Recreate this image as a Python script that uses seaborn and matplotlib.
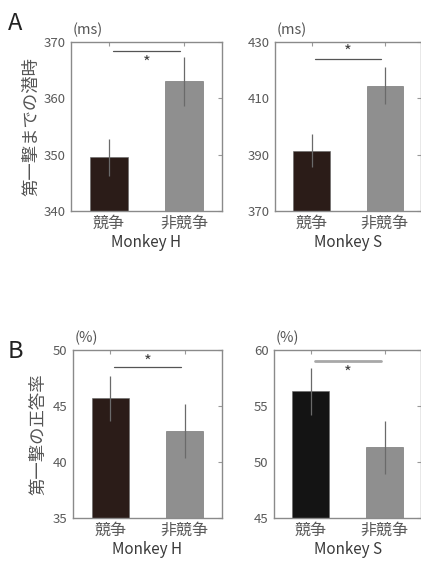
# 第一撃までの潜時 / 正答率 : 競争 vs 非競争
import pandas as pd
import numpy as np
import matplotlib.pyplot as plt
import seaborn as sns

conds = ["競争", "非競争"]
monkeys = ["Monkey H", "Monkey S"]

# A: 第一撃までの潜時 (ms)
lat_h = [349.5, 363.0]
lat_h_err = [3.3, 4.4]
lat_s = [391.4, 414.5]
lat_s_err = [5.9, 6.6]

# B: 第一撃の正答率 (%)
acc_h = [45.7, 42.8]
acc_h_err = [2.0, 2.4]
acc_s = [56.3, 51.3]
acc_s_err = [2.1, 2.35]

# 軸の範囲と目盛り
ylim_lat_h = (340, 370)
ylim_lat_s = (370, 430)
ylim_acc_h = (35, 50)
ylim_acc_s = (45, 60)

# 有意差の線と * の位置 (データ座標)
sig_lat_h = (368.4, 366.3)
sig_lat_s = (424.1, 426.4)
sig_acc_h = (48.45, 48.95)
sig_acc_s = (59.05, 57.9)

sns.set_style("white")
plt.rcParams['font.family'] = ['Noto Sans CJK JP', 'DejaVu Sans']

BROWN = "#2e1a15"
BLACK = "#141414"
GRAY = "#8f8f8f"


def panel(ax, vals, errs, ylim, step, colors, unit, xlabel, sig, sig_col="#555555", sig_lw=0.9):
    df = pd.DataFrame({"cond": conds, "val": vals})
    sns.barplot(data=df, x="cond", y="val", hue="cond", palette=colors, width=0.5,
                legend=False, ax=ax, edgecolor="#666666", linewidth=0.4, zorder=2)
    ax.errorbar(np.arange(len(conds)), vals, yerr=errs, fmt="none",
                ecolor="#6a6a6a", elinewidth=0.9, capsize=0, zorder=3)
    ax.set_xlim(-0.5, 1.5)
    ax.set_ylim(*ylim)
    ax.set_yticks(np.arange(ylim[0], ylim[1] + step / 2, step))
    ax.tick_params(direction="in", top=True, right=True, length=3, width=0.8,
                   color="#999999", labelcolor="#5a5a5a")
    ax.tick_params(axis="y", labelsize=9.5, pad=4)
    ax.tick_params(axis="x", labelsize=11.5, pad=3)
    for s in ax.spines.values():
        s.set_color("#8a8a8a")
        s.set_linewidth(1.0)
    ax.set_ylabel("")
    ax.set_xlabel(xlabel, fontsize=11, color="#3a3a3a", labelpad=1)
    # 有意差
    ax.plot([0.05, 0.95], [sig[0], sig[0]], color=sig_col, lw=sig_lw, zorder=4)
    ax.text(0.5, sig[1], "*", ha="center", va="center", fontsize=12, color="#444444")
    ax.text(0.01, 1.03, unit, transform=ax.transAxes, ha="left", va="bottom",
            fontsize=10.5, color="#555555")


W, H = 421, 567
fig = plt.figure(figsize=(W / 100, H / 100), dpi=100)


def box(x0, y0, x1, y1):
    return [x0 / W, 1 - y1 / H, (x1 - x0) / W, (y1 - y0) / H]


ax1 = fig.add_axes(box(71, 42, 222, 211))
ax2 = fig.add_axes(box(275, 42, 421.5, 211))
ax3 = fig.add_axes(box(73, 350, 222, 518))
ax4 = fig.add_axes(box(274, 350, 421.5, 518))

panel(ax1, lat_h, lat_h_err, ylim_lat_h, 10, [BROWN, GRAY], "(ms)", monkeys[0], sig_lat_h)
panel(ax2, lat_s, lat_s_err, ylim_lat_s, 20, [BROWN, GRAY], "(ms)", monkeys[1], sig_lat_s)
panel(ax3, acc_h, acc_h_err, ylim_acc_h, 5, [BROWN, GRAY], "(%)", monkeys[0], sig_acc_h)
panel(ax4, acc_s, acc_s_err, ylim_acc_s, 5, [BLACK, GRAY], "(%)", monkeys[1], sig_acc_s,
      sig_col="#a8a8a8", sig_lw=2.0)

ax1.set_ylabel("第一撃までの潜時", fontsize=12.5, color="#555555", labelpad=2)
ax3.set_ylabel("第一撃の正答率", fontsize=12.5, color="#555555", labelpad=4)

fig.text(8 / W, 1 - 30 / H, "A", fontsize=17, color="#222222")
fig.text(8 / W, 1 - 358 / H, "B", fontsize=17, color="#222222")

fig.savefig("out.png", dpi=100)
